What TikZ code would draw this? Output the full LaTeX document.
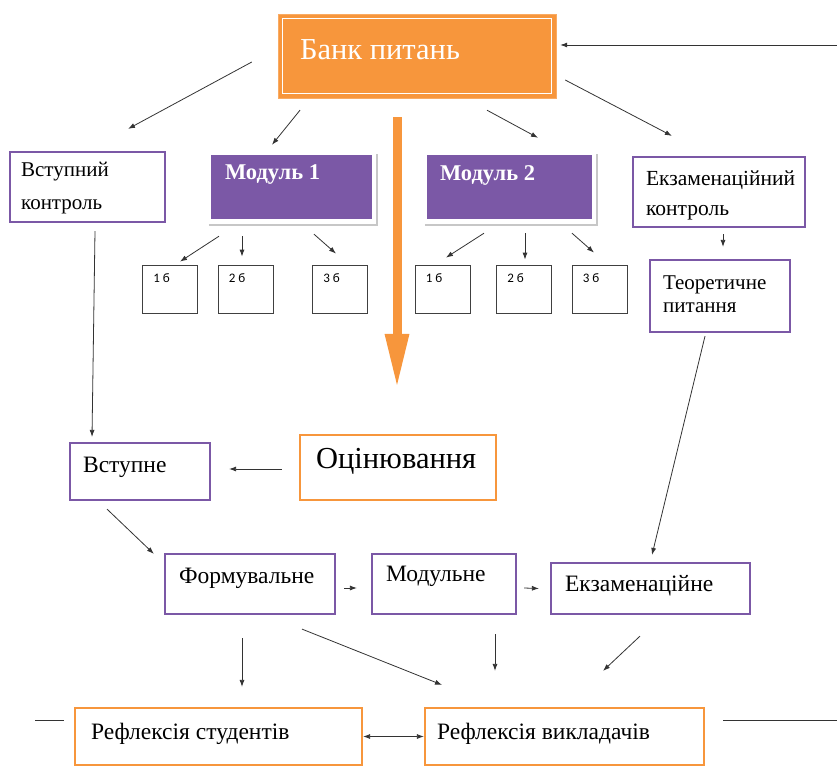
\documentclass[tikz,border=0pt]{standalone}
\usepackage{fontspec}
\setmainfont{Liberation Serif}
\newfontfamily\numfont{Carlito}
\usepackage{xcolor}
\usepackage{tikz}
\usetikzlibrary{calc}
\usetikzlibrary{arrows.meta}

\definecolor{bankorange}{RGB}{247,150,60}
\definecolor{modpurple}{RGB}{123,88,166}

\begin{document}
\begin{tikzpicture}[x=1pt, y=-1pt,
		pbox/.style = {draw=modpurple, line width=2.2pt, inner sep=0pt},
		obox/.style = {draw=bankorange, line width=2.2pt, inner sep=0pt},
		mbox/.style = {fill=modpurple, inner sep=0pt, minimum height=64pt},
		sbox/.style = {draw=black!75, line width=0.8pt, inner sep=0pt, minimum width=55pt, minimum height=48pt},
		lbl/.style = {anchor=west, inner sep=0pt, align=left, font=\fontsize{23.5}{30}\selectfont},
		toplbl/.style = {lbl, font=\fontsize{21.5}{32}\selectfont},
		num/.style = {anchor=north west, inner sep=0pt, font=\numfont\fontsize{13}{14}\selectfont},
		arr/.style = {draw=black!80, line width=0.8pt, -{Latex[length=7pt,width=5pt]}},
		lnk/.style = {draw=black!80, line width=0.8pt}]
		\useasboundingbox (0,0) rectangle (837,767);
		
		\node[fill=bankorange, draw=bankorange!80, inner sep=0pt, minimum width=278pt, minimum height=84pt] (bank) at (417,56) {};
		\draw[white, line width=1.2pt] ($(bank.north west)+(5,5)$) rectangle ($(bank.south east)+(-5,-5)$);
		\node[lbl, text=white, font=\fontsize{30.5}{32}\selectfont] (bank-t) at ($(bank.west)+(22,-6)$) {Банк питань};
		
		\begin{scope}
			\node[pbox, minimum width=155pt, minimum height=70pt] (vk) at (87.5,187) {};
			\node[toplbl, font=\fontsize{21}{33}\selectfont] (vk-t) at ($(vk.west)+(12,1)$) {Вступний\\контроль};
			
			\node[mbox, minimum width=161pt] (m1) at (291.5,187) {};
			\draw[black!22, line width=1.5pt] ($(m1.south west)+(-2,6)$) -- ($(m1.south east)+(5,6)$) -- ($(m1.north east)+(5,-1)$);
			\node[lbl, text=white, font=\bfseries\fontsize{22.5}{24}\selectfont] (m1-t) at ($(m1.west)+(14,-12)$) {Модуль 1};
			
			\node[sbox] (a1) at (170,289) {};
			\node[sbox] (a2) at (245.5,289) {};
			\node[sbox] (a3) at (340,289) {};
			\node[num] (a1-t) at ($(a1.north west)+(11,9)$) {1 б};
			\node[num] (a2-t) at ($(a2.north west)+(11,9)$) {2 б};
			\node[num] (a3-t) at ($(a3.north west)+(11,9)$) {3 б};
		\end{scope}
		
		\begin{scope}
			\node[mbox, minimum width=165pt] (m2) at (509.5,187) {};
			\draw[black!22, line width=1.5pt] ($(m2.south west)+(-2,6)$) -- ($(m2.south east)+(5,6)$) -- ($(m2.north east)+(5,-1)$);
			\node[lbl, text=white, font=\bfseries\fontsize{22.5}{24}\selectfont] (m2-t) at ($(m2.west)+(13,-12)$) {Модуль 2};
			
			\node[sbox] (b1) at (442.5,289) {};
			\node[sbox] (b2) at (524,289) {};
			\node[sbox] (b3) at (599.5,289) {};
			\node[num] (b1-t) at ($(b1.north west)+(11,9)$) {1 б};
			\node[num] (b2-t) at ($(b2.north west)+(11,9)$) {2 б};
			\node[num] (b3-t) at ($(b3.north west)+(11,9)$) {3 б};
			
			\node[pbox, minimum width=172pt, minimum height=70pt] (ek) at (719,192) {};
			\node[toplbl, font=\fontsize{21.5}{30}\selectfont] (ek-t) at ($(ek.west)+(14,3)$) {Екзаменаційний\\контроль};
			
			\node[pbox, minimum width=140pt, minimum height=72pt] (tp) at (720,296) {};
			\node[toplbl, font=\fontsize{21}{23}\selectfont] (tp-t) at ($(tp.west)+(14,-2)$) {Теоретичне\\питання};
		\end{scope}
		
		\node[pbox, minimum width=140pt, minimum height=57pt] (vst) at (140,471.5) {};
		\node[lbl] (vst-t) at ($(vst.west)+(14,-4)$) {Вступне};
		
		\node[obox, minimum width=196pt, minimum height=65pt] (ots) at (398,467.5) {};
		\node[lbl, font=\fontsize{30.5}{32}\selectfont] (ots-t) at ($(ots.west)+(17,-6)$) {Оцінювання};
		
		\node[pbox, minimum width=170pt, minimum height=60pt] (form) at (250,584) {};
		\node[lbl] (form-t) at ($(form.west)+(15,-6)$) {Формувальне};
		\node[pbox, minimum width=144pt, minimum height=60pt] (mod) at (444,584) {};
		\node[lbl] (mod-t) at ($(mod.west)+(15,-8)$) {Модульне};
		\node[pbox, minimum width=199pt, minimum height=51pt] (ekz) at (650.5,588.5) {};
		\node[lbl] (ekz-t) at ($(ekz.west)+(15,-3)$) {Екзаменаційне};
		
		\node[obox, minimum width=287pt, minimum height=57pt] (rs) at (218.5,736.5) {};
		\node[lbl] (rs-t) at ($(rs.west)+(17,-3)$) {Рефлексія студентів};
		\node[obox, minimum width=279pt, minimum height=57pt] (rv) at (564.5,736.5) {};
		\node[lbl] (rv-t) at ($(rv.west)+(13,-3)$) {Рефлексія викладачів};
		
		\coordinate (rin) at (837,45);
		\coordinate (lout) at (35,720);
		\coordinate (rout) at (837,720);
		
		\draw[bankorange, line width=9pt, -{Triangle[width=22pt,length=55pt]}] ($(bank.south)+(-20,19)$) -- ($(ots.north)+(-1,-45)$);
		
		\draw[arr] (rin) -- ($(bank.east)+(4,-11)$);
		\draw[arr] ($(bank.west)+(-26,6)$) -- ($(vk.north)+(40.5,-22)$);
		\draw[arr] ($(bank.south)+(-117,12)$) -- ($(m1.north)+(-19.5,-10)$);
		\draw[arr] ($(bank.south)+(70,12)$) -- ($(m2.north)+(28.5,-17)$);
		\draw[arr] ($(bank.east)+(9,24)$) -- ($(ek.north)+(-47,-20)$);
		
		\draw[arr] ($(m1.south)+(-72.5,17)$) -- ($(a1.north)+(10,-3)$);
		\draw[arr] ($(m1.south)+(-49.5,17)$) -- ($(a2.north)+(-3.5,-8)$);
		\draw[arr] ($(m1.south)+(22.5,15)$) -- ($(a3.north)+(-4,-11)$);
		\draw[arr] ($(m2.south)+(-25.5,14)$) -- ($(b1.north)+(3.5,-7)$);
		\draw[arr] ($(m2.south)+(15.5,14)$) -- ($(b2.north)+(1,-5)$);
		\draw[arr] ($(m2.south)+(62.5,14)$) -- ($(b3.north)+(-5.5,-12)$);
		\draw[arr] ($(ek.south)+(4,6)$) -- ($(tp.north)+(3,-12)$);
		
		\draw[arr] ($(tp.south)+(-15,3)$) -- ($(ekz.north)+(1.5,-7)$);
		\draw[arr] ($(vk.south)+(7.5,8)$) -- ($(vst.north)+(-48,-5)$);
		\draw[arr] ($(ots.west)+(-17,1.5)$) -- ($(vst.east)+(18,-2.5)$);
		\draw[arr] ($(vst.south)+(-33,8)$) -- ($(form.north west)+(-10,1)$);
		\draw[arr] ($(form.east)+(8,4)$) -- ($(mod.west)+(-14,4)$);
		\draw[arr] ($(mod.east)+(7,4)$) -- ($(ekz.west)+(-11,0)$);
		
		\draw[arr] ($(form.south)+(-8,23)$) -- ($(rs.north)+(23.5,-20)$);
		\draw[arr] ($(form.south)+(52,14)$) -- ($(rv.north)+(-122.5,-22)$);
		\draw[arr] ($(mod.south)+(51,19)$) -- ($(rv.north)+(-69.5,-36)$);
		\draw[arr] ($(ekz.south)+(-10.5,21)$) -- ($(rv.north)+(38.5,-36)$);
		\draw[arr, {Latex[length=7pt,width=5pt]}-{Latex[length=7pt,width=5pt]}] (rs.east) -- (rv.west);
		
		\draw[lnk] (lout) -- ($(rs.west)+(-10,-16.5)$);
		\draw[lnk] ($(rv.east)+(18,-16.5)$) -- (rout);
	\end{tikzpicture}
\end{document}
